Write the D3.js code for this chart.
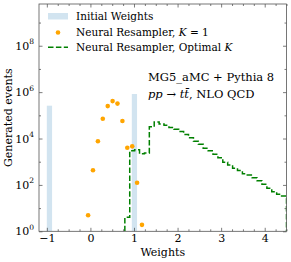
<!doctype html>
<html>
<head>
<meta charset="utf-8">
<style>
  body { margin:0; background:#fff; }
  svg { font-family:"DejaVu Serif", serif; }
  .tick text { font-size:11px; }
</style>
<script src="https://cdn.jsdelivr.net/npm/d3@7"></script>
</head>
<body>
<svg id="chart" width="291" height="262"></svg>
<script>
// initial weights: two bars
var initLeft  = [-1.0, 0.95]
var initRight = [-0.88, 1.07]
var initCount = [2.6e5, 8.3e5]

// neural resampler K=1 (bin centres)
var k1X = [-0.053, 0.059, 0.172, 0.284, 0.397, 0.509, 0.621, 0.734, 0.846, 0.959, 1.071, 1.183]
var k1Y = [4.9, 430, 7600, 7.1e4, 2.5e5, 4.1e5, 3.2e5, 5.7e4, 4.0e3, 4.6e3, 124, 1.9]

// neural resampler optimal K, step histogram
var optEdges = [0.79, 0.902, 1.015, 1.127, 1.24, 1.352, 1.464, 1.577, 1.689, 1.802, 1.914,
  2.026, 2.139, 2.251, 2.364, 2.476, 2.588, 2.701, 2.813, 2.926, 3.038, 3.15, 3.263,
  3.375, 3.488, 3.6, 3.712, 3.825, 3.937, 4.05, 4.162, 4.274, 4.387, 4.5]
var optCount = [4, 3000, 3300, 2200, 2400,
  3.2e4, 5.2e4, 4.2e4, 3.7e4, 3.0e4, 2.5e4, 2.0e4, 1.5e4, 1.07e4, 7600, 5600,
  3800, 2950, 2100, 1500, 950, 720, 525, 420, 300, 270, 205, 150, 107, 72, 51, 40, 33]

var xTicks = [-1, 0, 1, 2, 3, 4]
var yTickExp = [0, 2, 4, 6, 8]

var L = 39, R = 286.5, T = 4, B = 231.3
var svg = d3.select("#chart")

var x = d3.scaleLinear().domain([-1.18, 4.5]).range([L, R])
var y = d3.scaleLog().domain([1, Math.pow(10, 9.8)]).range([B, T])

svg.append("clipPath").attr("id", "clip")
  .append("rect").attr("x", L).attr("y", T).attr("width", R - L).attr("height", B - T)

var plot = svg.append("g").attr("clip-path", "url(#clip)")

// bars
plot.selectAll("rect.init").data(initCount).enter().append("rect")
  .attr("class", "init")
  .attr("x", function(d, i) { return x(initLeft[i]) })
  .attr("width", function(d, i) { return x(initRight[i]) - x(initLeft[i]) })
  .attr("y", function(d) { return y(d) })
  .attr("height", function(d) { return B - y(d) })
  .attr("fill", "#1f77b4").attr("fill-opacity", 0.2)

// step outline
var pts = [[x(optEdges[0]), B]]
optCount.forEach(function(c, i) {
  pts.push([x(optEdges[i]), y(c)])
  pts.push([x(optEdges[i + 1]), y(c)])
})
pts.push([x(optEdges[optEdges.length - 1]), B + 2])
plot.append("path")
  .attr("d", d3.line()(pts))
  .attr("fill", "none").attr("stroke", "green").attr("stroke-width", 1.5)
  .attr("stroke-dasharray", "5.5,2.4")

// points
plot.selectAll("circle.k1").data(k1Y).enter().append("circle")
  .attr("cx", function(d, i) { return x(k1X[i]) })
  .attr("cy", function(d) { return y(d) })
  .attr("r", 2.3).attr("fill", "orange")

// axes (ticks inward)
function supLabel(sel) {
  sel.each(function(d) {
    var t = d3.select(this).text(null)
    t.append("tspan").text("10")
    t.append("tspan").attr("dy", -5.5).attr("font-size", "7.5px").text(Math.round(Math.log10(d)))
  })
}
var yt = yTickExp.map(function(e) { return Math.pow(10, e) })
var yMinor = [1, 3, 5, 7, 9].map(function(e) { return Math.pow(10, e) })
var xMinor = d3.range(-1, 4.51, 0.25).filter(function(v) { return Math.abs(v - Math.round(v)) > 0.01 })

svg.append("g").attr("transform", "translate(0," + B + ")")
  .call(d3.axisBottom(x).tickValues(xTicks).tickSizeInner(-3.5).tickSizeOuter(0).tickPadding(3)
    .tickFormat(function(d) { return d < 0 ? "\u2212" + Math.abs(d) : d }))
svg.append("g").attr("transform", "translate(0," + B + ")")
  .call(d3.axisBottom(x).tickValues(xMinor).tickSize(-2).tickFormat(""))
svg.append("g").attr("transform", "translate(0," + T + ")")
  .call(d3.axisTop(x).tickValues(xTicks).tickSize(-3.5).tickFormat(""))
svg.append("g").attr("transform", "translate(0," + T + ")")
  .call(d3.axisTop(x).tickValues(xMinor).tickSize(-2).tickFormat(""))

var gy = svg.append("g").attr("transform", "translate(" + L + ",0)")
  .call(d3.axisLeft(y).tickValues(yt).tickSizeInner(-3.5).tickSizeOuter(0).tickPadding(5))
gy.selectAll(".tick text").call(supLabel)
svg.append("g").attr("transform", "translate(" + L + ",0)")
  .call(d3.axisLeft(y).tickValues(yMinor).tickSize(-2).tickFormat(""))
svg.append("g").attr("transform", "translate(" + R + ",0)")
  .call(d3.axisRight(y).tickValues(yt).tickSize(-3.5).tickFormat(""))
svg.append("g").attr("transform", "translate(" + R + ",0)")
  .call(d3.axisRight(y).tickValues(yMinor).tickSize(-2).tickFormat(""))

svg.selectAll(".domain").remove()
svg.selectAll(".tick line").attr("stroke", "#444").attr("stroke-width", 0.7)
svg.selectAll(".tick text").attr("fill", "#000").attr("font-family", "DejaVu Serif")

svg.append("rect").attr("x", L).attr("y", T).attr("width", R - L).attr("height", B - T)
  .attr("fill", "none").attr("stroke", "#555").attr("stroke-width", 0.8)

// axis titles
svg.append("text").attr("x", (L + R) / 2).attr("y", 255.5).attr("text-anchor", "middle")
  .attr("font-size", "11px").text("Weights")
svg.append("text").attr("transform", "translate(12," + (T + B) / 2 + ") rotate(-90)")
  .attr("text-anchor", "middle").attr("font-size", "11px")
  .text("Generated events")

// legend
var lg = svg.append("g").attr("font-size", "10.5px")
lg.append("rect").attr("x", 48).attr("y", 13).attr("width", 20).attr("height", 6.5)
  .attr("fill", "#1f77b4").attr("fill-opacity", 0.2)
lg.append("text").attr("x", 76).attr("y", 20).text("Initial Weights")
lg.append("circle").attr("cx", 58).attr("cy", 32.5).attr("r", 2.3).attr("fill", "orange")
var t2 = lg.append("text").attr("x", 76).attr("y", 36)
t2.append("tspan").text("Neural Resampler, ")
t2.append("tspan").attr("font-style", "italic").text("K")
t2.append("tspan").text(" = 1")
lg.append("line").attr("x1", 48).attr("x2", 68).attr("y1", 47.3).attr("y2", 47.3)
  .attr("stroke", "green").attr("stroke-width", 1.5).attr("stroke-dasharray", "5.5,2.4")
var t3 = lg.append("text").attr("x", 76).attr("y", 51)
t3.append("tspan").text("Neural Resampler, Optimal ")
t3.append("tspan").attr("font-style", "italic").text("K")

// annotation
svg.append("text").attr("x", 148).attr("y", 81).attr("font-size", "11.5px").text("MG5_aMC + Pythia 8")
var a2 = svg.append("text").attr("x", 148).attr("y", 98).attr("font-size", "11.5px")
a2.append("tspan").attr("font-style", "italic").text("pp")
a2.append("tspan").text(" \u2192 ")
a2.append("tspan").attr("font-style", "italic").text("tt\u0304")
a2.append("tspan").text(", NLO QCD")
</script>
</body>
</html>
